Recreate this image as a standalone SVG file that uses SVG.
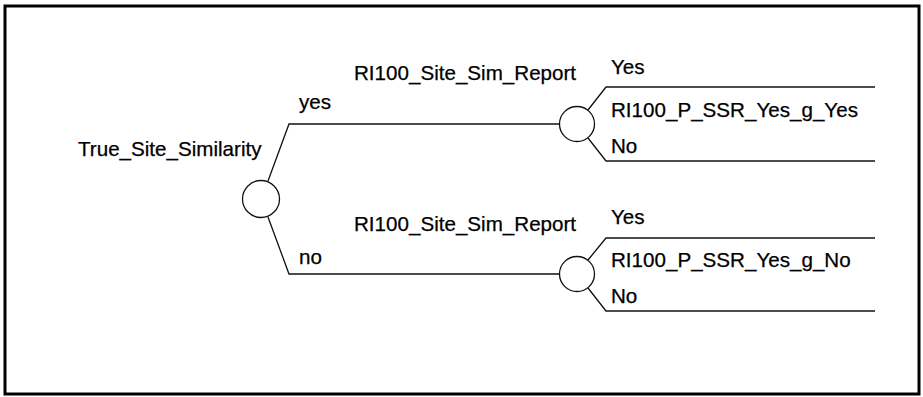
<svg xmlns="http://www.w3.org/2000/svg" width="923" height="397" viewBox="0 0 923 397">
<style>
.t{font-family:"Liberation Sans",Arial,sans-serif;font-size:20.6px;fill:#000;stroke:#000;stroke-width:0.25}
.l{fill:none;stroke:#111;stroke-width:1.3}
.c{fill:#fff;stroke:#111;stroke-width:1.3}
</style>
<rect x="5" y="6" width="914" height="388" fill="#fff" stroke="#000" stroke-width="3"/>
<g id="connectors">
<polyline class="l" points="268,181 289,124 559,124"/>
<polyline class="l" points="268,217 289,274 559,274"/>
<polyline class="l" points="588,110 606,87 875,87"/>
<polyline class="l" points="588,138 606,161 875,161"/>
<polyline class="l" points="588,260 606,238 875,238"/>
<polyline class="l" points="588,288 606,311 875,311"/>
</g>
<g id="node-true-site">
<circle class="c" cx="261" cy="199" r="18.5"/>
<text class="t" x="78" y="156">True_Site_Similarity</text>
</g>
<g id="edge-yes"><text class="t" x="299" y="109">yes</text></g>
<g id="edge-no"><text class="t" x="299" y="264">no</text></g>
<g id="node-report-yes">
<circle class="c" cx="577" cy="124" r="17.5"/>
<text class="t" x="354" y="80">RI100_Site_Sim_Report</text>
</g>
<g id="node-report-no">
<circle class="c" cx="577" cy="274" r="17.5"/>
<text class="t" x="354" y="231">RI100_Site_Sim_Report</text>
</g>
<g id="leaf-yes">
<text class="t" x="611" y="74">Yes</text>
<text class="t" x="611" y="117">RI100_P_SSR_Yes_g_Yes</text>
<text class="t" x="611" y="153">No</text>
</g>
<g id="leaf-no">
<text class="t" x="611" y="224">Yes</text>
<text class="t" x="611" y="267">RI100_P_SSR_Yes_g_No</text>
<text class="t" x="611" y="303">No</text>
</g>
</svg>
